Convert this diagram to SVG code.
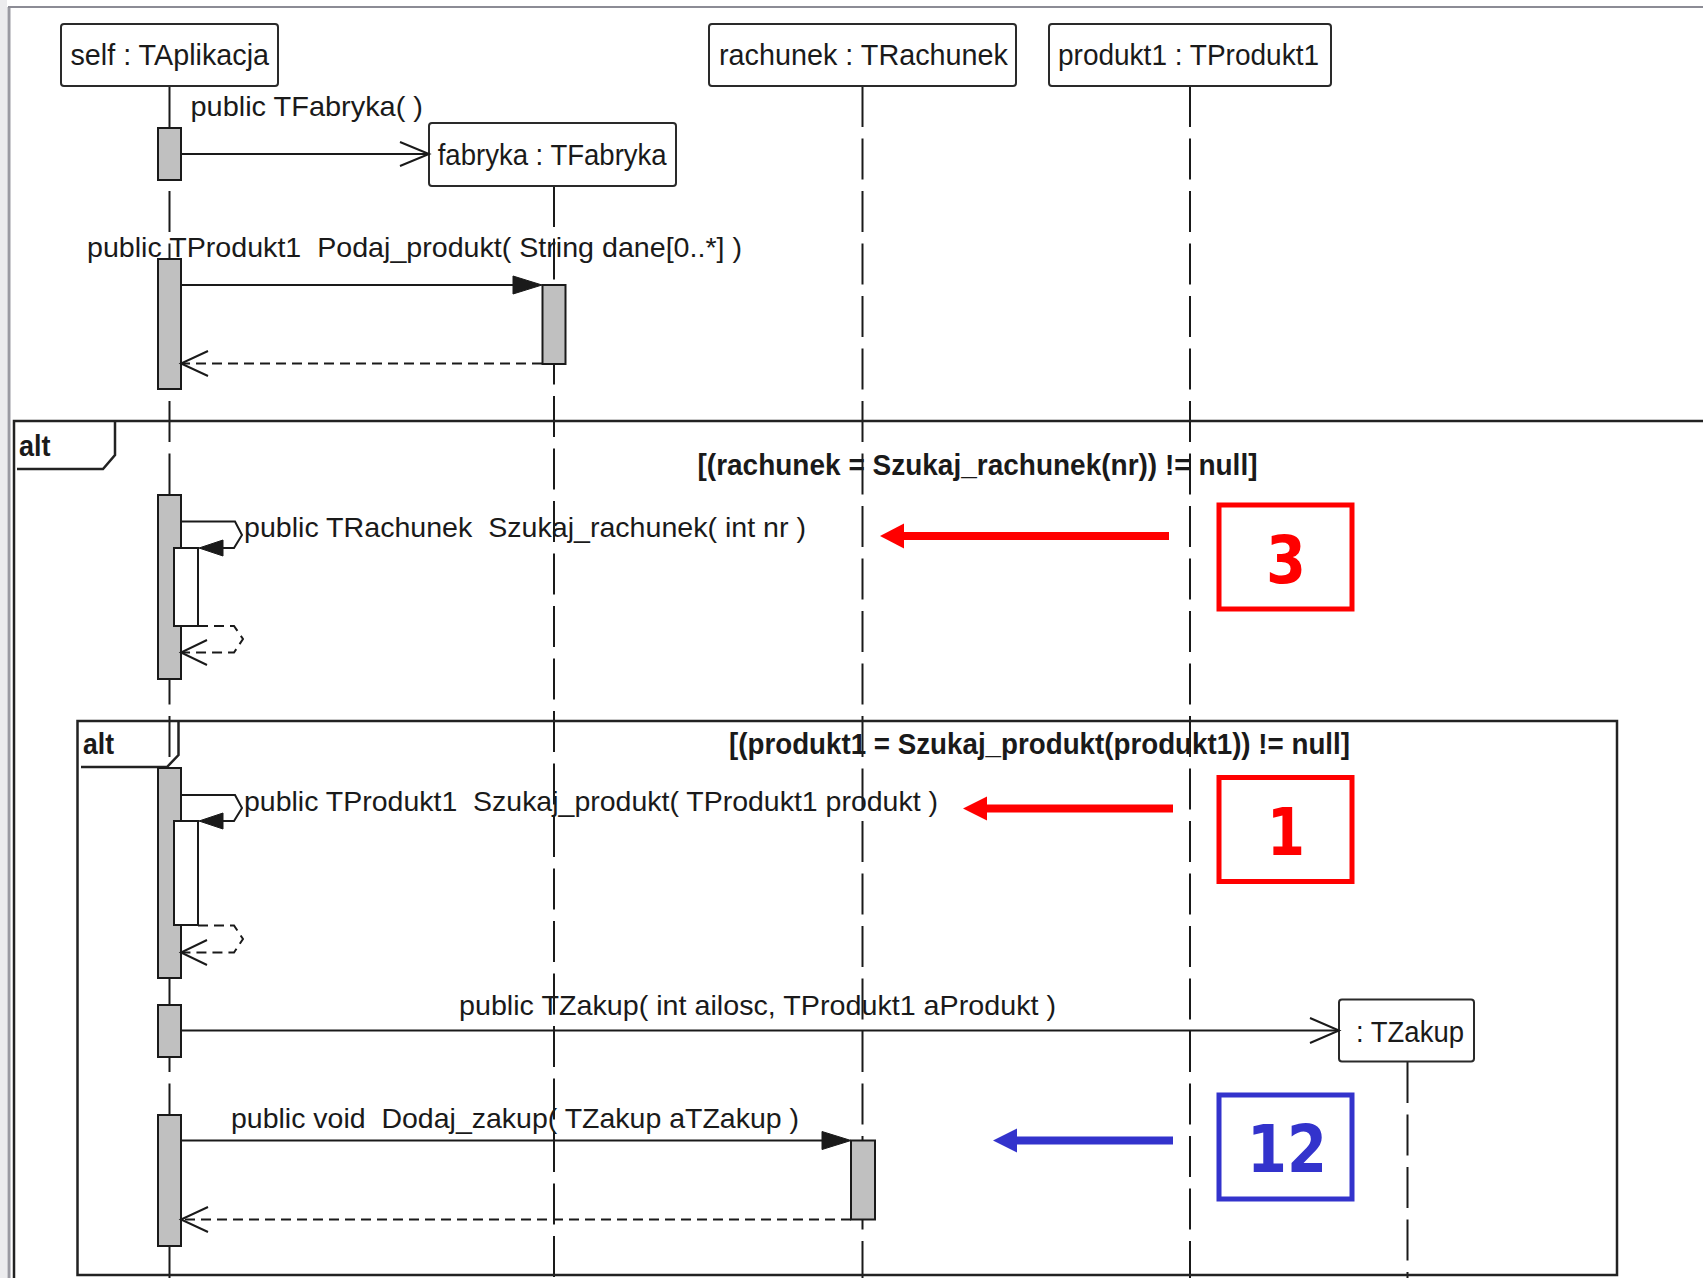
<svg xmlns="http://www.w3.org/2000/svg" width="1703" height="1278" viewBox="0 0 1703 1278">
<defs>
<style>
.head{fill:#ffffff;stroke:#2a2a2a;stroke-width:2}
.t{font-family:"Liberation Sans",Arial,sans-serif;fill:#1a1a1a;white-space:pre}
.ht{font-size:30px}
.mt{font-size:28px}
.bt{font-size:29px;font-weight:bold}
.life{stroke:#1a1a1a;stroke-width:2;stroke-dasharray:41 11.5;fill:none}
.act{fill:#c0c0c0;stroke:#1a1a1a;stroke-width:2}
.actw{fill:#ffffff;stroke:#1a1a1a;stroke-width:2}
.msg{stroke:#1a1a1a;stroke-width:2;fill:none}
.ret{stroke:#1a1a1a;stroke-width:2;fill:none;stroke-dasharray:10 6}
.fill{fill:#1a1a1a;stroke:#1a1a1a;stroke-width:1}
.frame{stroke:#222;stroke-width:2.5;fill:none}
.num{font-family:"DejaVu Sans",Verdana,sans-serif;font-weight:bold;font-size:66px;text-anchor:middle}
</style>
</defs>
<rect x="0" y="0" width="1703" height="1278" fill="#ffffff"/>
<g id="window">
<rect x="0" y="0" width="7" height="1278" fill="#ececee"/>
<line x1="9" y1="7" x2="9" y2="1278" stroke="#9a9aa2" stroke-width="3"/>
<line x1="8" y1="7" x2="1703" y2="7" stroke="#8c8c95" stroke-width="2"/>
</g>
<g id="lifelines">
<line class="life" x1="169.5" y1="86" x2="169.5" y2="1278"/>
<line class="life" x1="554" y1="186" x2="554" y2="1278"/>
<line class="life" x1="862.5" y1="86" x2="862.5" y2="1278"/>
<line class="life" x1="1190" y1="86" x2="1190" y2="1278"/>
<line class="life" x1="1407.5" y1="1062" x2="1407.5" y2="1278"/>
</g>
<g id="frame-outer">
<path class="frame" d="M14,1278 V421 H1703"/>
<path class="frame" d="M115,421 V455 L103,469 H17"/>
<text class="t bt" x="19" y="456" font-size="27" textLength="31.5" lengthAdjust="spacingAndGlyphs">alt</text>
<text class="t bt" x="697.5" y="475" textLength="560" lengthAdjust="spacingAndGlyphs">[(rachunek = Szukaj_rachunek(nr)) != null]</text>
</g>
<g id="frame-inner">
<rect class="frame" x="77.5" y="721" width="1539.5" height="554"/>
<path class="frame" d="M178.5,721 V755 L167,767 H81"/>
<text class="t bt" x="83" y="754" font-size="27" textLength="31" lengthAdjust="spacingAndGlyphs">alt</text>
<text class="t bt" x="729" y="754" textLength="621" lengthAdjust="spacingAndGlyphs">[(produkt1 = Szukaj_produkt(produkt1)) != null]</text>
</g>
<g id="node-self">
<rect class="head" x="61" y="24" width="217" height="62" rx="3"/>
<text class="t ht" x="70.5" y="65" textLength="198.5" lengthAdjust="spacingAndGlyphs">self : TAplikacja</text>
</g>
<g id="node-rachunek">
<rect class="head" x="709" y="24" width="307" height="62" rx="3"/>
<text class="t ht" x="719" y="65" textLength="289" lengthAdjust="spacingAndGlyphs">rachunek : TRachunek</text>
</g>
<g id="node-produkt1">
<rect class="head" x="1049" y="24" width="282" height="62" rx="3"/>
<text class="t ht" x="1058" y="65" textLength="261" lengthAdjust="spacingAndGlyphs">produkt1 : TProdukt1</text>
</g>
<g id="node-fabryka">
<rect class="head" x="429" y="123" width="247" height="63" rx="3"/>
<text class="t ht" x="437.7" y="164.5" textLength="229" lengthAdjust="spacingAndGlyphs">fabryka : TFabryka</text>
</g>
<g id="node-tzakup">
<rect class="head" x="1339" y="999.5" width="135" height="62" rx="3"/>
<text class="t ht" x="1356" y="1041.5" textLength="108" lengthAdjust="spacingAndGlyphs">: TZakup</text>
</g>
<g id="activations">
<rect class="act" x="158" y="128" width="23" height="52"/>
<rect class="act" x="158" y="259" width="23" height="130"/>
<rect class="act" x="542.5" y="285" width="23" height="79"/>
<rect class="act" x="158" y="495" width="23" height="184"/>
<rect class="actw" x="174" y="548" width="24" height="78"/>
<rect class="act" x="158" y="768" width="23" height="210"/>
<rect class="actw" x="174" y="821" width="24" height="104"/>
<rect class="act" x="158" y="1005" width="23" height="52"/>
<rect class="act" x="158" y="1115" width="23" height="131"/>
<rect class="act" x="851" y="1140.5" width="24" height="79"/>
</g>
<g id="connectors">
<line class="msg" x1="181" y1="154" x2="429" y2="154"/>
<polyline class="msg" points="400,142 429,154 400,166"/>
<line class="msg" x1="181" y1="285" x2="520" y2="285"/>
<polygon class="fill" points="542,285 513,276 513,294"/>
<line class="ret" x1="542" y1="363.5" x2="182" y2="363.5"/>
<polyline class="msg" points="208,351 181,363.5 208,376"/>
<polyline class="msg" points="181,521.5 235,521.5 242,535 234,548 218,548"/>
<polygon class="fill" points="199,548 223,540 223,556"/>
<path class="ret" d="M198,626 H234 L243,639 L234,652.5 H182"/>
<polyline class="msg" points="207,640 181,652.5 207,665"/>
<polyline class="msg" points="181,795 235,795 242,808 234,821 218,821"/>
<polygon class="fill" points="199,821 223,813 223,829"/>
<path class="ret" d="M198,925.5 H234 L243,939 L234,952.5 H182"/>
<polyline class="msg" points="207,940 181,952.5 207,965"/>
<line class="msg" x1="181" y1="1030.5" x2="1339" y2="1030.5"/>
<polyline class="msg" points="1310,1018 1339,1030.5 1310,1043"/>
<line class="msg" x1="181" y1="1140.5" x2="830" y2="1140.5"/>
<polygon class="fill" points="851,1140.5 822,1131.5 822,1149.5"/>
<line class="ret" x1="851" y1="1219.5" x2="182" y2="1219.5"/>
<polyline class="msg" points="208,1207 181,1219.5 208,1232"/>
</g>
<g id="labels">
<text class="t mt" x="190.5" y="116" textLength="232.5" lengthAdjust="spacingAndGlyphs">public TFabryka( )</text>
<text class="t mt" x="87" y="257" textLength="655" lengthAdjust="spacingAndGlyphs">public TProdukt1  Podaj_produkt( String dane[0..*] )</text>
<text class="t mt" x="244" y="537" textLength="562" lengthAdjust="spacingAndGlyphs">public TRachunek  Szukaj_rachunek( int nr )</text>
<text class="t mt" x="244" y="811" textLength="694" lengthAdjust="spacingAndGlyphs">public TProdukt1  Szukaj_produkt( TProdukt1 produkt )</text>
<text class="t mt" x="459" y="1015" textLength="597" lengthAdjust="spacingAndGlyphs">public TZakup( int ailosc, TProdukt1 aProdukt )</text>
<text class="t mt" x="231" y="1128" textLength="568" lengthAdjust="spacingAndGlyphs">public void  Dodaj_zakup( TZakup aTZakup )</text>
</g>
<g id="marker-3">
<line x1="1169" y1="536" x2="900" y2="536" stroke="#ff0000" stroke-width="8"/>
<polygon points="880,536 904,523.5 904,548.5" fill="#ff0000"/>
<rect x="1219" y="505" width="133" height="104" fill="none" stroke="#ff0000" stroke-width="5"/>
<text class="num" x="1286" y="583" fill="#ff0000" textLength="40" lengthAdjust="spacingAndGlyphs">3</text>
</g>
<g id="marker-1">
<line x1="1173" y1="808.5" x2="982" y2="808.5" stroke="#ff0000" stroke-width="8"/>
<polygon points="963,808.5 987,796.5 987,820.5" fill="#ff0000"/>
<rect x="1219" y="777.5" width="133" height="104" fill="none" stroke="#ff0000" stroke-width="5"/>
<text class="num" x="1286" y="855" fill="#ff0000" textLength="38" lengthAdjust="spacingAndGlyphs">1</text>
</g>
<g id="marker-12">
<line x1="1173" y1="1140.5" x2="1012" y2="1140.5" stroke="#3333cc" stroke-width="8"/>
<polygon points="993,1140.5 1017,1128.5 1017,1152.5" fill="#3333cc"/>
<rect x="1219" y="1095" width="133" height="104" fill="none" stroke="#3333cc" stroke-width="5"/>
<text class="num" x="1287" y="1172" fill="#3333cc" textLength="80" lengthAdjust="spacingAndGlyphs">12</text>
</g>
</svg>
